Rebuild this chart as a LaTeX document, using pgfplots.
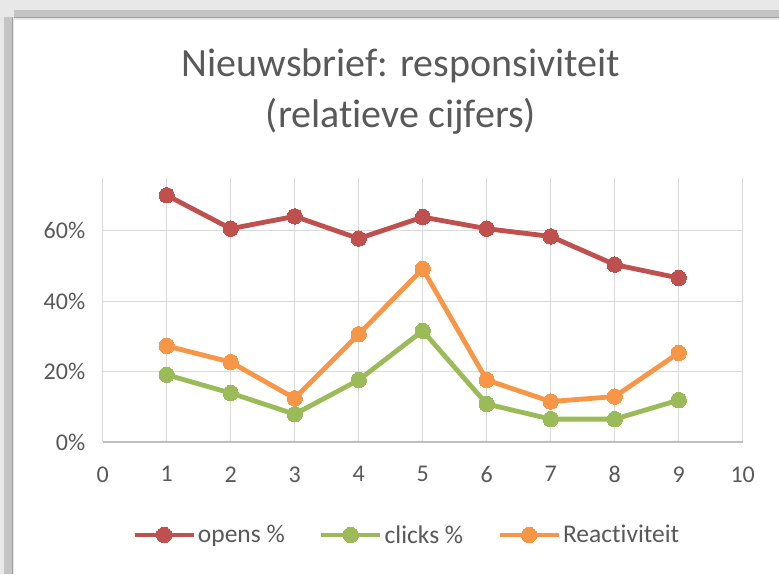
\documentclass[border=0pt]{standalone}
\usepackage{pgfplots}
\pgfplotsset{compat=1.18}
\usepackage{fontspec}
\setmainfont{Carlito}[Ligatures=NoCommon]
\definecolor{txt}{HTML}{595959}
\definecolor{gridc}{HTML}{D9D9D9}
\definecolor{axc}{HTML}{BFBFBF}
\definecolor{cop}{HTML}{C0504D}
\definecolor{ccl}{HTML}{9BBB59}
\definecolor{cre}{HTML}{F79646}
\definecolor{fr1}{HTML}{E8E8E8}
\definecolor{fr2}{HTML}{C4C4C4}
\definecolor{fr3}{HTML}{A0A0A0}
\begin{document}
\begin{tikzpicture}[x=1pt,y=1pt]
% background and frame
\fill[white] (0,0) rectangle (779,574);
\fill[fr1] (0,574) rectangle (779,554);
\fill[fr2] (0,564) rectangle (779,557);
\fill[fr3] (0,557) rectangle (779,556);
\fill[fr1] (0,0) rectangle (14,574);
\fill[fr2] (4,0) rectangle (12,557);
\fill[fr3] (12,0) rectangle (13,557);
\fill[white] (15,0) rectangle (779,554);
% title
\node[text=txt,font=\fontsize{40}{48}\selectfont] at (401,508) {Nieuwsbrief: responsiviteit};
\node[text=txt,font=\fontsize{40}{48}\selectfont] at (401,458) {(relatieve cijfers)};
\begin{axis}[
  at={(102.7pt,132pt)}, anchor=south west,
  scale only axis, width=640pt, height=264pt,
  xmin=0, xmax=10, ymin=0, ymax=75,
  xtick={0,1,...,10},
  ytick={0,20,40,60},
  yticklabels={0\%,20\%,40\%,60\%},
  /pgf/number format/assume math mode=true,
  tick label style={font=\fontsize{24}{28}\selectfont, text=txt},
  xticklabel style={yshift=-21pt},
  yticklabel style={xshift=-14pt},
  major tick length=0pt,
  grid=major,
  major grid style={draw=gridc, line width=1.2pt},
  axis x line=bottom, axis y line=left,
  x axis line style={draw=axc, line width=1.2pt, -},
  y axis line style={draw=none, -},
  legend columns=3,
  legend style={at={(0.475,-0.352)}, anchor=center, draw=none, fill=none,
    font=\fontsize{25.5}{30}\selectfont, text=txt,
    /tikz/every even column/.append style={column sep=32pt}},
  legend image code/.code={\draw[#1,mark repeat=2,mark phase=2] plot coordinates {(0pt,0pt) (29.5pt,0pt) (59pt,0pt)};},
  every axis plot/.append style={line width=4.8pt, mark=*, mark size=7.7pt},
]
\addplot[color=cop, mark options={fill=cop, draw=cop, line width=0pt}] coordinates {
(1,70.1) (2,60.6) (3,64.1) (4,57.8) (5,63.9) (6,60.6) (7,58.4) (8,50.4) (9,46.6)};
\addlegendentry{opens \%}
\addplot[color=ccl, mark options={fill=ccl, draw=ccl, line width=0pt}] coordinates {
(1,19.1) (2,13.9) (3,7.9) (4,17.6) (5,31.6) (6,10.8) (7,6.5) (8,6.5) (9,11.9)};
\addlegendentry{clicks \%}
\addplot[color=cre, mark options={fill=cre, draw=cre, line width=0pt}] coordinates {
(1,27.3) (2,22.7) (3,12.4) (4,30.6) (5,49.2) (6,17.6) (7,11.5) (8,12.9) (9,25.3)};
\addlegendentry{Reactiviteit}
\end{axis}
\end{tikzpicture}
\end{document}
